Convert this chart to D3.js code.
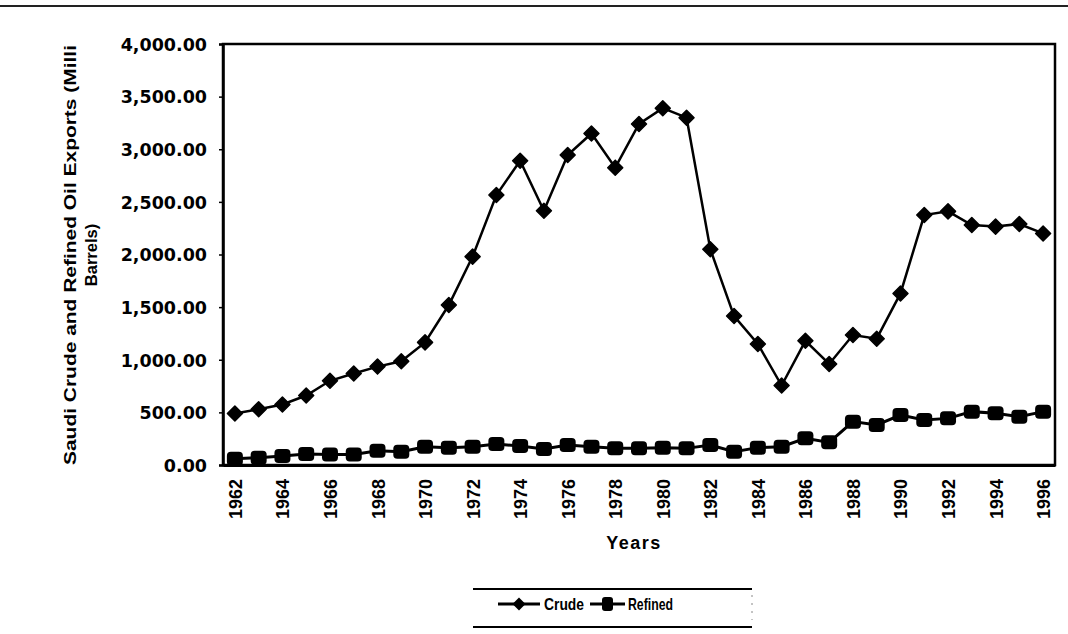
<!DOCTYPE html>
<html>
<head>
<meta charset="utf-8">
<script src="https://cdn.jsdelivr.net/npm/d3@7/dist/d3.min.js"></script>
<style>
  html, body { margin: 0; padding: 0; background: #fff; }
  svg { display: block; }
  text { font-family: "Liberation Sans", Arial, sans-serif; font-weight: bold; fill: #000; }
</style>
</head>
<body>
<svg id="chart" width="1068" height="634"></svg>
<script>
const years = [1962,1963,1964,1965,1966,1967,1968,1969,1970,1971,1972,1973,1974,1975,1976,1977,1978,1979,
               1980,1981,1982,1983,1984,1985,1986,1987,1988,1989,1990,1991,1992,1993,1994,1995,1996];
const crude = [490,530,575,660,800,870,935,985,1165,1520,1980,2565,2890,2415,2945,3150,2825,3240,
               3390,3300,2050,1415,1150,755,1180,960,1235,1200,1630,2375,2410,2280,2265,2290,2200];
const refined = [60,70,85,104,100,100,136,127,174,165,174,200,180,152,190,174,158,158,
                 165,158,190,127,165,174,253,215,412,380,475,428,443,507,491,459,507];
const yTicks = [0,500,1000,1500,2000,2500,3000,3500,4000];
const xTickLabels = [1962,1964,1966,1968,1970,1972,1974,1976,1978,1980,1982,1984,1986,1988,1990,1992,1994,1996];
const seriesNames = ["Crude","Refined"];
const yTitleLines = ["Saudi Crude and Refined Oil Exports (Milli","Barrels)"];
const xTitle = "Years";

const svg = d3.select("#chart");
const L = 223, R = 1055, T = 44, B = 465;

const x = d3.scaleBand().domain(years).range([L, R]);
const y = d3.scaleLinear().domain([0, 4000]).range([B, T]);
const cx = d => x(d) + x.bandwidth() / 2;

// page rule at top
svg.append("line").attr("x1", 0).attr("x2", 1068).attr("y1", 6).attr("y2", 6)
  .attr("stroke", "#222").attr("stroke-width", 2);

// plot frame
svg.append("rect").attr("x", L).attr("y", T).attr("width", R - L).attr("height", B - T)
  .attr("fill", "none").attr("stroke", "#000").attr("stroke-width", 2.5);

// y axis
const yAxis = d3.axisLeft(y).tickValues(yTicks).tickFormat(d3.format(",.2f")).tickSize(4).tickPadding(12);
const gy = svg.append("g").attr("transform", `translate(${L},0)`).call(yAxis);
gy.select(".domain").attr("stroke", "#000").attr("stroke-width", 2.5);
gy.selectAll(".tick line").attr("stroke", "#000").attr("stroke-width", 1.5);
gy.selectAll(".tick text").style("font-family", "'DejaVu Sans', sans-serif").style("font-weight", "bold")
  .attr("font-size", 17.5).attr("dy", "0.36em");

// x axis
const xAxis = d3.axisBottom(x).tickValues(xTickLabels).tickSize(0).tickPadding(0);
const gx = svg.append("g").attr("transform", `translate(0,${B})`).call(xAxis);
gx.select(".domain").attr("stroke", "#000").attr("stroke-width", 3);
gx.selectAll(".tick text")
  .attr("font-size", 18)
  .attr("text-anchor", "end")
  .attr("transform", "translate(7,14) rotate(-90)")
  .attr("x", 0).attr("y", 0).attr("dy", 0);

// axis titles
svg.append("text").attr("x", 634).attr("y", 549).attr("text-anchor", "middle")
  .attr("font-size", 18).attr("letter-spacing", 1.5).text(xTitle);
svg.append("text").attr("transform", "translate(76,255) rotate(-90)")
  .attr("text-anchor", "middle").attr("font-size", 16.5)
  .attr("textLength", 420).attr("lengthAdjust", "spacingAndGlyphs").text(yTitleLines[0]);
svg.append("text").attr("transform", "translate(97,255) rotate(-90)")
  .attr("text-anchor", "middle").attr("font-size", 16.5).text(yTitleLines[1]);

// lines
const line = d3.line().x((d, i) => cx(years[i])).y(d => y(d));
svg.append("path").datum(refined).attr("d", line).attr("fill", "none").attr("stroke", "#000").attr("stroke-width", 3);
svg.append("path").datum(crude).attr("d", line).attr("fill", "none").attr("stroke", "#000").attr("stroke-width", 2.5);

const diamond = (h) => `M0,${-h}L${h},0L0,${h}L${-h},0Z`;
svg.append("g").selectAll("path").data(crude).join("path")
  .attr("d", diamond(7.5))
  .attr("transform", (d, i) => `translate(${cx(years[i])},${y(d)})`)
  .attr("fill", "#000").attr("stroke", "#000").attr("stroke-width", 1.5).attr("stroke-linejoin", "round");

svg.append("g").selectAll("rect").data(refined).join("rect")
  .attr("x", (d, i) => cx(years[i]) - 8).attr("y", d => y(d) - 7)
  .attr("width", 16).attr("height", 14).attr("rx", 4)
  .attr("fill", "#000");

// legend
const lg = svg.append("g");
lg.append("line").attr("x1", 473).attr("x2", 752).attr("y1", 589).attr("y2", 589).attr("stroke", "#000").attr("stroke-width", 2);
lg.append("line").attr("x1", 473).attr("x2", 752).attr("y1", 627).attr("y2", 627).attr("stroke", "#000").attr("stroke-width", 2);
lg.append("line").attr("x1", 752).attr("x2", 752).attr("y1", 595).attr("y2", 620).attr("stroke", "#888").attr("stroke-width", 1).attr("stroke-dasharray", "2,6");
const ly = 604;
lg.append("line").attr("x1", 498).attr("x2", 540).attr("y1", ly).attr("y2", ly).attr("stroke", "#000").attr("stroke-width", 3);
lg.append("path").attr("d", diamond(6.5)).attr("transform", `translate(519,${ly})`).attr("fill", "#000");
lg.append("text").attr("x", 544).attr("y", ly + 6).attr("font-size", 16.5)
  .attr("textLength", 40).attr("lengthAdjust", "spacingAndGlyphs").text(seriesNames[0]);
lg.append("line").attr("x1", 590).attr("x2", 625).attr("y1", ly).attr("y2", ly).attr("stroke", "#000").attr("stroke-width", 3);
lg.append("rect").attr("x", 602).attr("y", ly - 7).attr("width", 11).attr("height", 14).attr("rx", 3).attr("fill", "#000");
lg.append("text").attr("x", 628).attr("y", ly + 6).attr("font-size", 16.5)
  .attr("textLength", 45).attr("lengthAdjust", "spacingAndGlyphs").text(seriesNames[1]);
</script>
</body>
</html>
